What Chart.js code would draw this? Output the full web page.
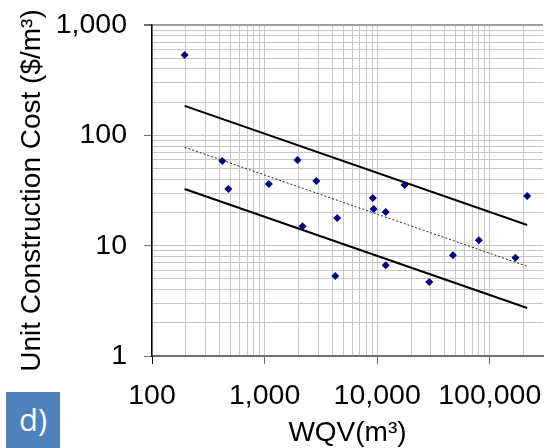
<!DOCTYPE html>
<html>
<head>
<meta charset="utf-8">
<script src="https://cdn.jsdelivr.net/npm/chart.js@4.4.1/dist/chart.umd.min.js"></script>
<style>
  body { margin: 0; background: #fff; }
  #wrap { position: relative; width: 547px; height: 448px; }
  #tag {
    position: absolute; left: 6px; top: 392px; width: 54px; height: 56px;
    background: #4f81bd; color: #fff; text-align: center;
    font: 31px "Open Sans", "Liberation Sans", Arial, sans-serif; line-height: 54px;
  }
</style>
</head>
<body>
<div id="wrap">
  <canvas id="myChart" width="547" height="448"></canvas>
  <div id="tag">d)</div>
</div>
<script>
// observed sites: water quality volume (m3) vs unit construction cost ($/m3)
const wqv = [195, 421, 476, 1090, 1960, 2170, 2880, 4240, 4420, 9140, 9300, 11900, 11900, 17500, 29000, 47100, 80000, 169000, 215000];
const unitCost = [535, 58.5, 32.6, 36.2, 59.7, 15, 38.5, 5.3, 17.8, 27, 21.5, 20.2, 6.66, 35.4, 4.68, 8.2, 11.2, 7.77, 28.2];

// fitted line and its upper / lower bounds (end points)
const fitX = [195, 215000];
const upperFit = [185, 15.4];
const meanFit = [78, 6.5];
const lowerFit = [32.6, 2.72];

const xTickValues = [100, 1000, 10000, 100000];
const yTickValues = [1, 10, 100, 1000];

const FONT = '"Liberation Sans", Arial, sans-serif';

// 1..9 x 10^k between min and max, for the minor grid
function logTicks(min, max, majors) {
  let out = [];
  for (let e = Math.floor(Math.log10(min)); e <= Math.ceil(Math.log10(max)); e++) {
    for (let s = 1; s <= 9; s++) {
      let v = Math.round(s * Math.pow(10, e));
      if (v >= min && v <= max) out.push({ value: v, major: majors.includes(v) });
    }
  }
  return out;
}

function toPoints(xs, ys) {
  return xs.map((x, i) => ({ x: x, y: ys[i] }));
}

function fitLine(ys, width, dash, color) {
  return {
    data: toPoints(fitX, ys),
    showLine: true,
    borderColor: color,
    borderWidth: width,
    borderDash: dash,
    pointRadius: 0,
    pointHoverRadius: 0,
  };
}

new Chart(document.getElementById("myChart"), {
  type: "scatter",
  data: {
    datasets: [
      {
        data: toPoints(wqv, unitCost),
        pointStyle: "rectRot",
        pointRadius: 4,
        backgroundColor: "#000080",
        borderColor: "#000080",
        borderWidth: 0,
      },
      fitLine(upperFit, 2, [], "#000"),
      fitLine(meanFit, 1, [2, 2], "#222"),
      fitLine(lowerFit, 2, [], "#000"),
    ],
  },
  options: {
    responsive: false,
    animation: false,
    layout: { padding: { top: 25, left: 0, right: 0, bottom: 0 } },
    plugins: {
      legend: { display: false },
      tooltip: { enabled: false },
    },
    scales: {
      x: {
        type: "logarithmic",
        min: 100,
        max: 297000,
        afterBuildTicks: (scale) => {
          scale.ticks = logTicks(scale.min, scale.max, xTickValues);
        },
        afterFit: (scale) => {
          scale.height = 92;
          scale.paddingLeft = 0;
          scale.paddingRight = 0;
        },
        grid: {
          color: "#c8c8c8",
          lineWidth: 1,
          tickLength: 8,
          tickColor: (ctx) =>
            ctx.tick && ctx.tick.value === 100
              ? "#000"
              : ctx.tick && ctx.tick.major
              ? "#707070"
              : "rgba(0,0,0,0)",
        },
        border: { color: "#707070", width: 2 },
        ticks: {
          autoSkip: false,
          maxRotation: 0,
          padding: 15,
          color: "#000",
          font: { family: FONT, size: 28.5 },
          callback: (value) =>
            xTickValues.includes(value) ? value.toLocaleString("en-US") : "",
        },
        title: {
          display: true,
          text: "WQV(m³)",
          color: "#000",
          font: { family: FONT, size: 28, lineHeight: 1 },
          padding: { top: 0, bottom: 1 },
        },
      },
      y: {
        type: "logarithmic",
        min: 1,
        max: 1000,
        afterBuildTicks: (scale) => {
          scale.ticks = logTicks(scale.min, scale.max, yTickValues);
        },
        afterFit: (scale) => {
          scale.width = 152;
          scale.paddingTop = 0;
          scale.paddingBottom = 0;
        },
        grid: {
          color: (ctx) =>
            ctx.tick && ctx.tick.value === 1000 ? "#a0a0a0" : "#c8c8c8",
          lineWidth: (ctx) => (ctx.tick && ctx.tick.value === 1000 ? 2 : 1),
          tickLength: 8,
          tickColor: (ctx) =>
            ctx.tick && ctx.tick.major ? "#707070" : "rgba(0,0,0,0)",
        },
        border: { color: "#000", width: 1.5 },
        ticks: {
          autoSkip: false,
          padding: 17,
          color: "#000",
          font: { family: FONT, size: 28.5 },
          callback: (value) =>
            yTickValues.includes(value) ? value.toLocaleString("en-US") : "",
        },
        title: {
          display: true,
          text: "Unit Construction Cost ($/m³)",
          color: "#000",
          font: { family: FONT, size: 28 },
          padding: { top: 15, bottom: 0 },
        },
      },
    },
  },
});
</script>
</body>
</html>
